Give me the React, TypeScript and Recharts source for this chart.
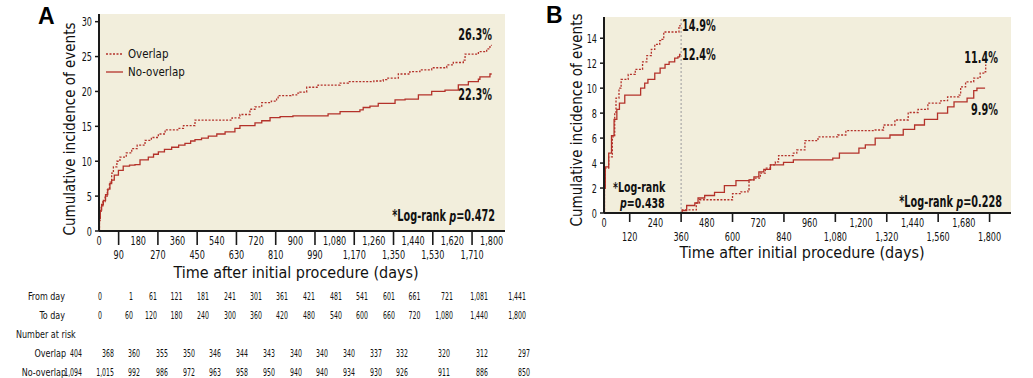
import { LineChart, Line, XAxis, YAxis, CartesianGrid, ReferenceLine } from "recharts";

type Pt = { day: number; value: number };
const pts = (rows: number[][]): Pt[] => rows.map(([day, value]) => ({ day, value }));

// Panel A – whole follow-up
const overlapA = pts([
  [0, 0], [2, 1.5], [5, 2.8], [10, 3.6], [18, 4.2], [28, 5.0], [38, 5.9], [48, 7.0],
  [58, 8.3], [66, 9.2], [82, 10.0], [96, 10.6], [125, 11.2], [150, 11.8], [175, 12.3],
  [211, 13.0], [240, 13.4], [272, 13.9], [303, 14.5], [364, 14.7], [387, 15.1], [440, 15.9],
  [610, 16.2], [646, 16.7], [692, 17.45], [715, 17.8], [746, 18.4], [790, 18.6], [814, 18.9],
  [821, 19.4], [880, 19.5], [906, 19.75], [921, 19.9], [952, 20.6], [1004, 20.9], [1105, 21.2],
  [1143, 21.4], [1260, 21.5], [1303, 21.7], [1319, 21.9], [1372, 22.5], [1425, 22.85],
  [1471, 23.1], [1525, 23.4], [1594, 23.8], [1624, 24.15], [1670, 24.5], [1678, 25.35],
  [1739, 25.7], [1777, 26.1], [1792, 26.6], [1800, 26.6],
]);

const noOverlapA = pts([
  [0, 0], [2, 1.8], [6, 3.0], [12, 3.8], [20, 4.4], [30, 5.2], [40, 6.0], [50, 6.8],
  [58, 7.3], [70, 8.0], [89, 8.7], [111, 9.3], [140, 9.45], [165, 9.5], [188, 10.2],
  [226, 10.6], [250, 11.0], [272, 11.35], [300, 11.7], [333, 12.0], [365, 12.3], [394, 12.55],
  [420, 12.9], [440, 13.1], [470, 13.3], [501, 13.6], [540, 13.9], [578, 14.2], [623, 14.7],
  [646, 15.1], [715, 15.5], [746, 15.8], [784, 16.25], [830, 16.4], [889, 16.5], [1050, 16.8],
  [1105, 17.1], [1196, 17.35], [1211, 17.7], [1242, 17.9], [1280, 18.3], [1357, 18.8],
  [1403, 18.9], [1464, 19.5], [1525, 20.0], [1586, 20.2], [1647, 20.95], [1693, 21.4],
  [1739, 21.75], [1746, 22.1], [1792, 22.5], [1800, 22.5],
]);

// Panel B – landmark at 360 days
const overlapB1 = pts([
  [0, 0], [2, 2.0], [6, 3.6], [22, 4.5], [39, 6.1], [50, 8.0], [56, 9.2], [70, 10.0],
  [80, 10.7], [113, 11.1], [146, 11.5], [180, 12.1], [200, 12.6], [221, 13.1], [237, 13.5],
  [260, 13.8], [270, 13.9], [279, 14.5], [350, 15.0], [358, 15.0],
]);

const noOverlapB1 = pts([
  [0, 0], [2, 2.0], [6, 3.7], [22, 4.8], [35, 6.2], [47, 7.5], [60, 8.3], [72, 8.8],
  [97, 9.45], [160, 9.45], [171, 10.0], [190, 10.4], [205, 10.7], [237, 11.2], [262, 11.6],
  [285, 11.9], [304, 12.1], [330, 12.4], [345, 12.5], [353, 12.7], [358, 12.7],
]);

const overlapB2 = pts([
  [360, 0], [365, 0.25], [431, 0.8], [446, 1.06], [600, 1.55], [639, 1.7], [672, 1.85],
  [677, 2.65], [700, 2.8], [730, 3.2], [753, 3.6], [777, 3.85], [800, 4.1], [815, 4.6],
  [884, 4.8], [900, 5.05], [938, 5.8], [999, 6.1], [1091, 6.25], [1129, 6.6], [1266, 6.65],
  [1305, 7.05], [1358, 7.45], [1420, 8.05], [1466, 8.3], [1512, 8.8], [1573, 9.0],
  [1604, 9.3], [1657, 9.45], [1665, 10.1], [1688, 10.5], [1726, 10.8], [1756, 11.2],
  [1779, 11.3], [1782, 11.85], [1785, 11.85],
]);

const noOverlapB2 = pts([
  [360, 0], [365, 0.2], [386, 0.6], [424, 0.8], [439, 1.2], [470, 1.4], [516, 1.65],
  [562, 2.2], [616, 2.6], [677, 2.65], [700, 2.9], [723, 3.3], [746, 3.5], [777, 3.85],
  [838, 4.05], [884, 4.25], [1037, 4.25], [1068, 4.4], [1099, 4.8], [1190, 5.2], [1220, 5.45],
  [1266, 6.0], [1335, 6.25], [1397, 6.7], [1450, 7.05], [1496, 7.5], [1557, 8.0], [1604, 8.5],
  [1634, 8.9], [1695, 9.2], [1726, 9.8], [1741, 10.0], [1779, 10.0],
]);

const xTicksA = [0, 90, 180, 270, 360, 450, 540, 630, 720, 810, 900, 990, 1080, 1170, 1260, 1350, 1440, 1530, 1620, 1710, 1800];
const yTicksA = [0, 5, 10, 15, 20, 25, 30];
const xTicksB = [0, 120, 240, 360, 480, 600, 720, 840, 960, 1080, 1200, 1320, 1440, 1560, 1680, 1800];
const yTicksB = [0, 2, 4, 6, 8, 10, 12, 14];

// numbers-at-risk table
const fromDay = [0, 1, 61, 121, 181, 241, 301, 361, 421, 481, 541, 601, 661, 721, 1081, 1441];
const toDay = [0, 60, 120, 180, 240, 300, 360, 420, 480, 540, 600, 660, 720, 1080, 1440, 1800];
const riskOverlap = [404, 368, 360, 355, 350, 346, 344, 343, 340, 340, 340, 337, 332, 320, 312, 297];
const riskNoOverlap = [1094, 1015, 992, 986, 972, 963, 958, 950, 940, 940, 934, 930, 926, 911, 886, 850];

// table column right edges (layout)
const dayColX = [102, 133, 157, 182.5, 209, 236, 262, 288, 315, 342, 368, 395, 420.5, 453, 488, 526];
const riskColX = [82, 114, 140, 168, 195, 221, 248, 275, 302, 328, 355, 382, 408, 450, 488, 530];

const BG = "#f2eedc";
const RED = "#b4322a";
const AXIS = "#1a1a1a";
const FONT = "'DejaVu Sans Condensed', 'DejaVu Sans', sans-serif";

const fmt = (v: number) => v.toLocaleString("en-US");

// text squeezed horizontally to mimic the narrow typeface of the figure
function NText(props: any) {
  const { x, y, sx = 1, rotate = 0, anchor = "start", size = 12, weight = 400, children } = props;
  const rot = rotate ? ` rotate(${rotate})` : "";
  return (
    <text
      transform={`translate(${x},${y})${rot} scale(${sx},1)`}
      textAnchor={anchor}
      dominantBaseline="central"
      fontSize={size}
      fontWeight={weight}
      fill="#111"
    >
      {children}
    </text>
  );
}

function StaggerTick(props: any) {
  const { x, y, payload, index, row1, row2, lineLen } = props;
  const odd = index % 2 === 1;
  return (
    <g>
      {odd && <line x1={x} x2={x} y1={y} y2={y + lineLen} stroke={AXIS} strokeWidth={1.6} />}
      <NText x={x} y={odd ? y + row2 : y + row1} anchor="middle" size={12.5} sx={0.72}>
        {fmt(payload.value)}
      </NText>
    </g>
  );
}

function LeftTick(props: any) {
  const { x, y, payload } = props;
  return (
    <NText x={x} y={y} anchor="end" size={12} sx={0.75}>
      {payload.value}
    </NText>
  );
}

const lineProps = {
  dataKey: "value",
  type: "stepAfter" as const,
  dot: false,
  stroke: RED,
  strokeWidth: 1.3,
  isAnimationActive: false,
};

function PanelA() {
  return (
    <LineChart width={520} height={290} margin={{ top: 14, right: 15, bottom: 0, left: 0 }}>
      <CartesianGrid fill={BG} stroke="none" />
      <XAxis
        type="number"
        dataKey="day"
        domain={[0, 1861]}
        ticks={xTicksA}
        interval={0}
        tickSize={0}
        tickMargin={0}
        height={59}
        allowDataOverflow
        axisLine={{ stroke: AXIS, strokeWidth: 2 }}
        tick={(p: any) => <StaggerTick {...p} row1={9.5} row2={24} lineLen={14} />}
      />
      <YAxis
        type="number"
        domain={[0, 31.1]}
        ticks={yTicksA}
        width={99}
        tickSize={4}
        tickMargin={3}
        interval={0}
        allowDataOverflow
        axisLine={{ stroke: AXIS, strokeWidth: 2 }}
        tickLine={{ stroke: AXIS, strokeWidth: 1.5 }}
        tick={(p: any) => <LeftTick {...p} />}
      />
      <Line {...lineProps} data={noOverlapA} />
      <Line {...lineProps} data={overlapA} strokeDasharray="2 1.5" />
    </LineChart>
  );
}

function PanelB() {
  return (
    <LineChart width={480} height={265} margin={{ top: 17, right: 9, bottom: 0, left: 0 }}>
      <CartesianGrid fill={BG} stroke="none" />
      <XAxis
        type="number"
        dataKey="day"
        domain={[0, 1900]}
        ticks={xTicksB}
        interval={0}
        tickSize={0}
        tickMargin={0}
        height={52}
        allowDataOverflow
        axisLine={{ stroke: AXIS, strokeWidth: 2 }}
        tick={(p: any) => <StaggerTick {...p} row1={10} row2={23.5} lineLen={9} />}
      />
      <YAxis
        type="number"
        domain={[0, 15.7]}
        ticks={yTicksB}
        width={64}
        tickSize={4}
        tickMargin={3}
        interval={0}
        allowDataOverflow
        axisLine={{ stroke: AXIS, strokeWidth: 2 }}
        tickLine={{ stroke: AXIS, strokeWidth: 1.5 }}
        tick={(p: any) => <LeftTick {...p} />}
      />
      <ReferenceLine x={360} stroke="#a8a8a8" strokeDasharray="2 2" strokeWidth={1.2} />
      <Line {...lineProps} data={noOverlapB1} />
      <Line {...lineProps} data={overlapB1} strokeDasharray="2 1.5" />
      <Line {...lineProps} data={noOverlapB2} />
      <Line {...lineProps} data={overlapB2} strokeDasharray="2 1.5" />
    </LineChart>
  );
}

function Overlay() {
  const B = { size: 15, weight: 700, sx: 0.72 };
  const small = { size: 13.5, weight: 700, sx: 0.78 };
  const lab = { size: 10.5, sx: 0.85 };
  const num = { size: 10.5, sx: 0.66, anchor: "end" };
  return (
    <svg
      width={1033}
      height={378}
      style={{ position: "absolute", left: 0, top: 0, pointerEvents: "none", fontFamily: FONT }}
    >
      <text x={38} y={16} fontSize={23} fontWeight={700} fontFamily="'Liberation Sans', Arial, sans-serif" dominantBaseline="central">A</text>
      <text x={546} y={15} fontSize={23} fontWeight={700} fontFamily="'Liberation Sans', Arial, sans-serif" dominantBaseline="central">B</text>

      {/* legend */}
      <line x1={106} x2={123} y1={54} y2={54} stroke={RED} strokeWidth={1.3} strokeDasharray="2 1.5" />
      <NText x={128} y={54} size={13} sx={0.88}>Overlap</NText>
      <line x1={106} x2={123} y1={72} y2={72} stroke={RED} strokeWidth={1.3} />
      <NText x={128} y={72} size={13} sx={0.88}>No-overlap</NText>

      {/* axis titles */}
      <NText x={296} y={272} size={16} anchor="middle">Time after initial procedure (days)</NText>
      <NText x={70} y={129} size={15} rotate={-90} anchor="middle">Cumulative incidence of events</NText>
      <NText x={802} y={252} size={16} anchor="middle">Time after initial procedure (days)</NText>
      <NText x={577} y={120} size={15} rotate={-90} anchor="middle">Cumulative incidence of events</NText>

      {/* annotations A */}
      <NText x={492} y={35} anchor="end" {...B}>26.3%</NText>
      <NText x={492} y={95} anchor="end" {...B}>22.3%</NText>
      <NText x={495} y={216} anchor="end" {...B}>*Log-rank <tspan fontStyle="italic">p</tspan>=0.472</NText>

      {/* annotations B */}
      <NText x={682} y={26} {...B}>14.9%</NText>
      <NText x={682} y={55} {...B}>12.4%</NText>
      <NText x={998} y={58} anchor="end" {...B}>11.4%</NText>
      <NText x={998} y={110} anchor="end" {...B}>9.9%</NText>
      <NText x={1002} y={202} anchor="end" {...B}>*Log-rank <tspan fontStyle="italic">p</tspan>=0.228</NText>
      <NText x={613} y={188} {...small}>*Log-rank</NText>
      <NText x={620} y={203.5} {...small}><tspan fontStyle="italic">p</tspan>=0.438</NText>

      {/* numbers at risk */}
      <NText x={65} y={296} anchor="end" {...lab}>From day</NText>
      <NText x={65} y={315} anchor="end" {...lab}>To day</NText>
      <NText x={16} y={334} {...lab}>Number at risk</NText>
      <NText x={66} y={353} anchor="end" {...lab}>Overlap</NText>
      <NText x={66} y={372} anchor="end" {...lab}>No-overlap</NText>
      {fromDay.map((v, i) => (
        <NText key={"f" + i} x={dayColX[i]} y={296} {...num}>{fmt(v)}</NText>
      ))}
      {toDay.map((v, i) => (
        <NText key={"t" + i} x={dayColX[i]} y={315} {...num}>{fmt(v)}</NText>
      ))}
      {riskOverlap.map((v, i) => (
        <NText key={"o" + i} x={riskColX[i]} y={353} {...num}>{fmt(v)}</NText>
      ))}
      {riskNoOverlap.map((v, i) => (
        <NText key={"n" + i} x={riskColX[i]} y={372} {...num}>{fmt(v)}</NText>
      ))}
    </svg>
  );
}

export default function App() {
  return (
    <div
      style={{
        position: "absolute",
        left: 0,
        top: 0,
        width: 1033,
        height: 378,
        background: "#fff",
        fontFamily: FONT,
        overflow: "hidden",
      }}
    >
      <div style={{ position: "absolute", left: 0, top: 0 }}>
        <PanelA />
      </div>
      <div style={{ position: "absolute", left: 540, top: 0 }}>
        <PanelB />
      </div>
      <Overlay />
    </div>
  );
}
